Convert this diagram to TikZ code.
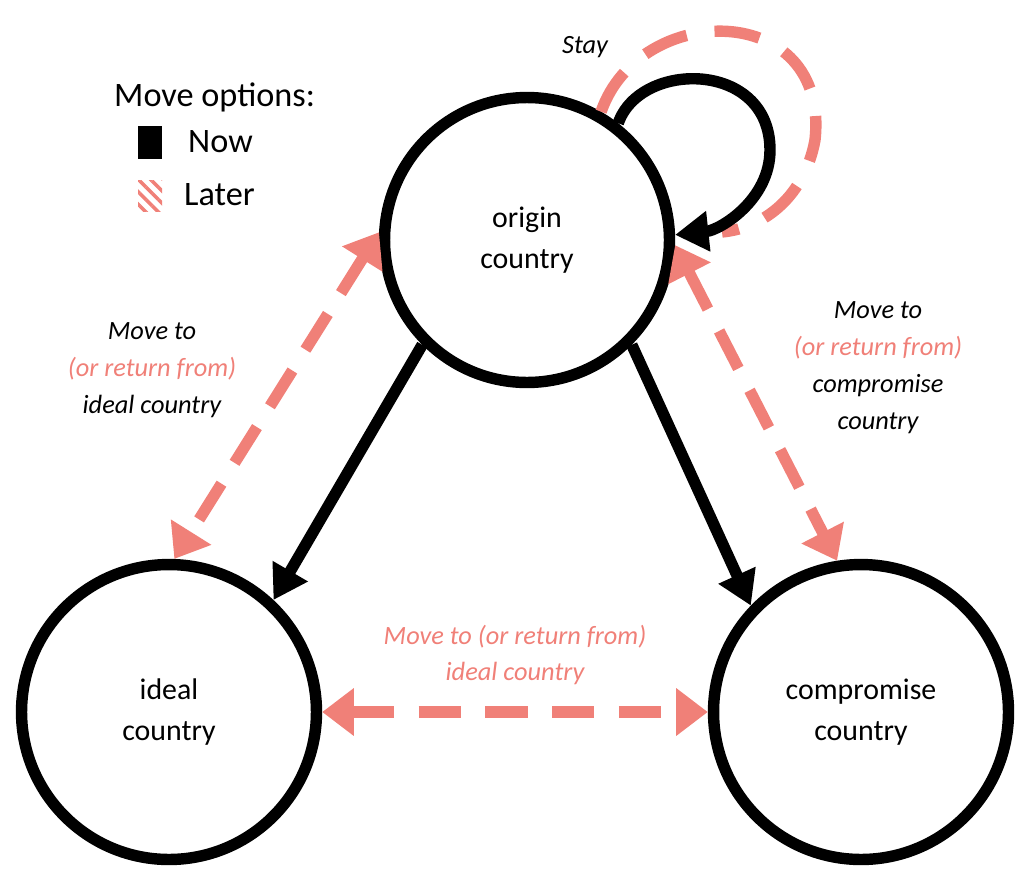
\documentclass[tikz,border=0pt]{standalone}
\usepackage{fontspec}
\setmainfont{Carlito}
\usetikzlibrary{positioning, arrows.meta, patterns.meta}
\definecolor{salmon}{RGB}{240,128,120}

\begin{document}
\begin{tikzpicture}[x=0.02cm, y=-0.02cm,
          cn/.style={circle, draw=black, line width=6.5pt, minimum size=5.7cm,
            align=center, font=\fontsize{17}{23}\selectfont},
          now/.style={-{Triangle[length=19pt, width=22pt]}, line width=6.5pt},
          later/.style={{Triangle[length=18pt, width=26pt]}-{Triangle[length=18pt, width=26pt]},
            line width=6.5pt, salmon, dash pattern=on 24pt off 14pt},
          lab/.style={align=center, font=\itshape\fontsize{15}{21}\selectfont}]
        \useasboundingbox (0,0) rectangle (1024,886);
        \node[cn] (orig) at (527,240) {origin\\country};
        \node[cn, minimum size=5.9cm] (ideal) at (169,712) {ideal\\country};
        \node[cn, minimum size=5.9cm] (comp) at (861,712) {compromise\\country};
        % later options
        \draw[later] (orig.177) -- (ideal.88);
        \draw[later] (orig.-2) -- (comp.99);
        \draw[later] (ideal) -- (comp);
        \draw[salmon, line width=6.5pt, dash pattern=on 26pt off 16pt]
          (orig.60) .. controls (640,0) and (830,0) .. (815,140)
          .. controls (805,195) and (765,228) .. (722,232);
        % now options
        \draw[now] (orig.225) -- (ideal.47);
        \draw[now] (orig.-45) -- (comp.136);
        \draw[now] (orig.52) .. controls (640,60) and (770,60) .. (770,150)
          .. controls (770,200) and (720,230) .. (orig.2);
        % labels
        \node[lab] (stay) at (585,47) {Stay};
        \node[lab] (lideal) at (152,370) {Move to\\\textcolor{salmon}{(or return from)}\\ideal country};
        \node[lab] (lcomp) at (878,368) {Move to\\\textcolor{salmon}{(or return from)}\\compromise\\country};
        \node[lab, text=salmon] (lbottom) at (515,655) {Move to (or return from)\\ideal country};
        % legend
        \node[font=\fontsize{19.5}{22}\selectfont, anchor=west] (leg) at (108,97) {Move options:};
        \fill (138,126) rectangle (162,159);
        \node[font=\fontsize{19.5}{22}\selectfont, anchor=west] (lnow) at (182,142) {Now};
        \fill[pattern={Lines[angle=-45, distance=5pt, line width=2pt]}, pattern color=salmon] (138,180) rectangle (162,211);
        \node[font=\fontsize{19.5}{22}\selectfont, anchor=west] (llater) at (178,195) {Later};
\end{tikzpicture}
\end{document}
